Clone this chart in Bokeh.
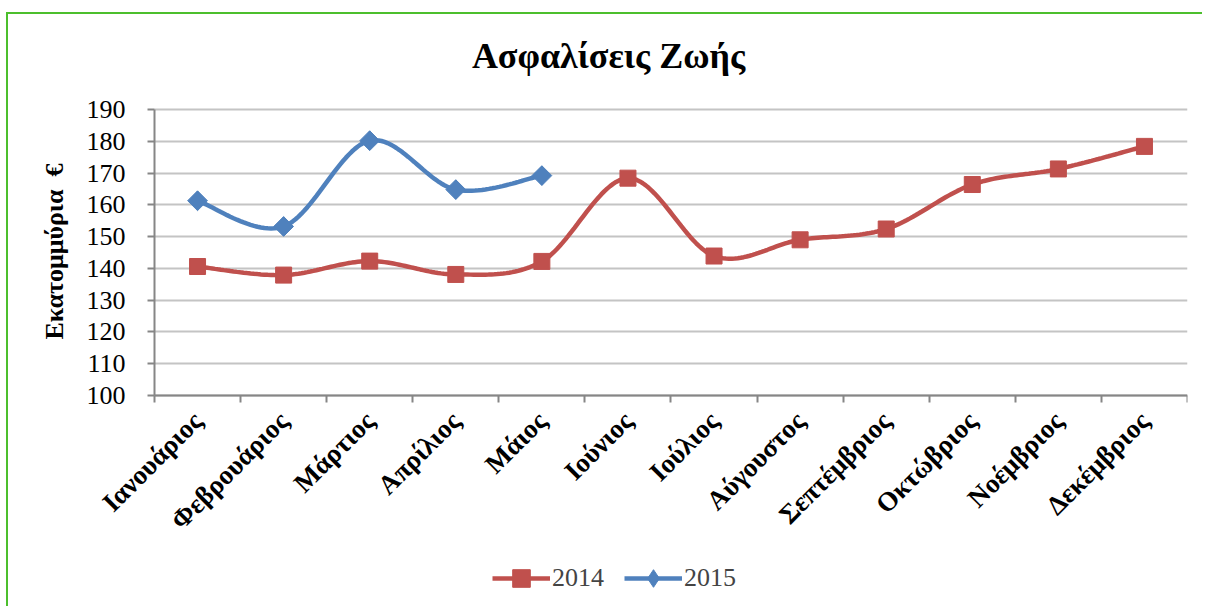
import numpy as np
from bokeh.plotting import figure
from bokeh.models import (Range1d, FixedTicker, Legend, LegendItem, LinearAxis, Label)
from bokeh.embed import file_html
from bokeh.resources import INLINE

title_text = "Ασφαλίσεις Ζωής"
y_title = "Εκατομμύρια\u00a0\u00a0€"
months = ["Ιανουάριος", "Φεβρουάριος", "Μάρτιος", "Απρίλιος", "Μάιος", "Ιούνιος",
          "Ιούλιος", "Αύγουστος", "Σεπτέμβριος", "Οκτώβριος", "Νοέμβριος", "Δεκέμβριος"]
values_2014 = [140.6, 137.9, 142.3, 138.1, 142.2, 168.4, 143.9, 149.0, 152.4, 166.4, 171.3, 178.4]
values_2015 = [161.3, 153.2, 180.2, 164.8, 169.2]
y_ticks = [100, 110, 120, 130, 140, 150, 160, 170, 180, 190]

RED = "#C0504D"
BLUE = "#4F81BD"
FONT = "Liberation Serif"
AXIS_GREY = "#868686"


def smooth(xs, ys, n=30):
    xs = np.asarray(xs, float)
    ys = np.asarray(ys, float)
    P = np.column_stack([xs, ys])
    m = len(P)
    out = []
    for i in range(m - 1):
        p0 = P[i - 1] if i > 0 else P[i]
        p1 = P[i]
        p2 = P[i + 1]
        p3 = P[i + 2] if i + 2 < m else P[i + 1]
        c1 = p1 + (p2 - p0) / 6.0
        c2 = p2 - (p3 - p1) / 6.0
        t = np.linspace(0, 1, n)[:, None]
        seg = ((1 - t) ** 3) * p1 + 3 * ((1 - t) ** 2) * t * c1 + 3 * (1 - t) * t ** 2 * c2 + t ** 3 * p2
        out.append(seg if i == 0 else seg[1:])
    arr = np.vstack(out)
    return arr[:, 0], arr[:, 1]


n_cat = len(months)
x14 = [i + 0.5 for i in range(len(values_2014))]
x15 = [i + 0.5 for i in range(len(values_2015))]

# the frame covers nearly the whole canvas; axes are pinned at x=0 and y=100
p = figure(width=1196, height=594, output_backend="svg", toolbar_location=None,
           x_range=Range1d(-1.696, n_cat), y_range=Range1d(35.5, 219.9),
           x_axis_location=None, y_axis_location=None,
           min_border_left=0, min_border_right=17, min_border_top=0, min_border_bottom=8)

p.outline_line_color = None
p.background_fill_color = "white"
p.border_fill_color = "white"

# title
p.add_layout(Label(x=5.274, y=206.8, text=title_text,
                   text_align="center", text_baseline="alphabetic",
                   text_font=FONT, text_font_size="36px", text_font_style="bold",
                   text_color="black"))

# grid
p.xgrid.visible = False
p.ygrid.ticker = FixedTicker(ticks=y_ticks)
p.ygrid.grid_line_color = "#c4c4c4"
p.ygrid.grid_line_width = 2
p.ygrid.cross_bounds = (0, n_cat)

# y axis
yax = LinearAxis(fixed_location=0, bounds=(100, 190))
yax.ticker = FixedTicker(ticks=y_ticks)
yax.axis_line_color = AXIS_GREY
yax.axis_line_width = 2
yax.major_tick_line_color = AXIS_GREY
yax.major_tick_line_width = 2
yax.major_tick_out = 7
yax.major_tick_in = 0
yax.minor_tick_line_color = None
yax.major_label_text_font = FONT
yax.major_label_text_font_size = "26px"
yax.major_label_text_color = "black"
yax.major_label_standoff = 22
p.add_layout(yax, "left")

p.add_layout(Label(x=-1.162, y=145.3, text=y_title, angle=np.pi / 2,
                   text_align="center", text_baseline="middle",
                   text_font=FONT, text_font_size="26px", text_font_style="bold",
                   text_color="black"))

# x axis at value 100: labels at category centres, ticks at boundaries
xax = LinearAxis(fixed_location=100, bounds=(0, n_cat))
xax.ticker = FixedTicker(ticks=x14, minor_ticks=list(range(n_cat + 1)))
xax.major_label_overrides = {x: m for x, m in zip(x14, months)}
xax.axis_line_color = AXIS_GREY
xax.axis_line_width = 2
xax.major_tick_line_color = None
xax.minor_tick_line_color = AXIS_GREY
xax.minor_tick_line_width = 2
xax.minor_tick_out = 7
xax.minor_tick_in = 0
xax.major_label_orientation = np.pi / 4
xax.major_label_text_font = FONT
xax.major_label_text_font_size = "27px"
xax.major_label_text_font_style = "bold"
xax.major_label_text_color = "black"
xax.major_label_standoff = 14
p.add_layout(xax, "below")

# series
sx14, sy14 = smooth(x14, values_2014)
sx15, sy15 = smooth(x15, values_2015)
l14 = p.line(sx14, sy14, line_color=RED, line_width=4.5)
m14 = p.scatter(x14, values_2014, marker="square", size=16, fill_color=RED, line_color=RED)
l15 = p.line(sx15, sy15, line_color=BLUE, line_width=4.5)
# diamond (used for the legend symbol; legend markers are never rotated)
k15 = p.scatter(x15, values_2015, marker="diamond", size=19, fill_color=BLUE, line_color=BLUE)
m15 = p.scatter(x15, values_2015, marker="square", angle=np.pi / 4, size=14,
                fill_color=BLUE, line_color=BLUE)

legend = Legend(items=[LegendItem(label="2014", renderers=[l14, m14]),
                       LegendItem(label="2015", renderers=[l15, k15])],
                orientation="horizontal", location=(484, 0),
                label_text_font=FONT, label_text_font_size="26px",
                glyph_width=58, glyph_height=44, label_standoff=2, spacing=20,
                padding=0, margin=0, border_line_color=None,
                background_fill_alpha=0)
p.add_layout(legend, "center")

p.styles = {"border-left": "2px solid #4cbf2d", "border-top": "2px solid #4cbf2d",
            "margin-top": "12px", "margin-left": "6px"}

open("out.html", "w").write(file_html(p, INLINE))
